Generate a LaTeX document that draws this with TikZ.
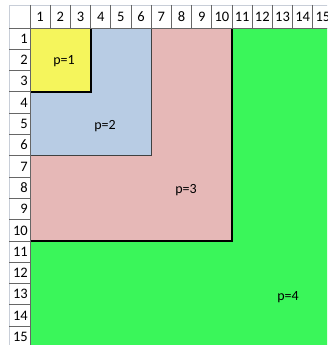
\documentclass[tikz,border=0pt]{standalone}
\usepackage{fontspec}
\setmainfont{Carlito}
\usepackage{xcolor}
\definecolor{cellyellow}{RGB}{245,245,92}
\definecolor{cellblue}{RGB}{184,204,228}
\definecolor{cellpink}{RGB}{230,184,183}
\definecolor{cellgreen}{RGB}{58,246,90}
\definecolor{hdrline}{RGB}{200,206,216}
\newcommand{\cw}{20.2}
\newcommand{\rh}{21.3}
\tikzset{
  hdrnum/.style={font=\fontsize{14.5}{14.5}\selectfont, inner sep=0pt},
  plabel/.style={font=\fontsize{14}{14}\selectfont, inner sep=0pt},
  sep/.style={black!60, line width=0.9pt}
}

\begin{document}
\begin{tikzpicture}[x=1pt, y=-1pt]
  \useasboundingbox (0,0) rectangle (327,345);
  \clip (0,0) rectangle (327,345);
  \fill[white] (0,0) rectangle (327,345);
  % the four blocks, largest first
  \fill[cellgreen] (30,28) rectangle (335,350);
  \fill[cellpink] (30,28) rectangle ({30+10*\cw},{28+10*\rh});
  \draw[line width=2pt] ({30+10*\cw},28) -- ({30+10*\cw},{28+10*\rh}) -- (30,{28+10*\rh});
  \fill[cellblue] (30,28) rectangle ({30+6*\cw},{28+6*\rh});
  \draw[line width=1.3pt, black!75] ({30+6*\cw},28) -- ({30+6*\cw},{28+6*\rh}) -- (30,{28+6*\rh});
  \fill[cellyellow] (30,28) rectangle ({30+3*\cw},{28+3*\rh});
  \draw[line width=2pt] ({30+3*\cw},28) -- ({30+3*\cw},{28+3*\rh}) -- (30,{28+3*\rh});
  % headers
  \draw[hdrline] (9,350) -- (9,5) -- (335,5);
  \foreach \i in {1,...,15} {
    \node[hdrnum] (col\i) at ({30+(\i-0.5)*\cw},16.5) {\i};
    \draw[sep] ({30+\i*\cw},5) -- ({30+\i*\cw},28);
    \node[hdrnum, anchor=east] (row\i) at (28,{28+(\i-0.5)*\rh}) {\i};
    \draw[sep] (9,{28+\i*\rh}) -- (30,{28+\i*\rh});
  }
  \draw[sep] (9,28) -- (335,28);
  \draw[sep] (30,5) -- (30,350);
  % labels
  \node[plabel] (p1) at (64,61) {p=1};
  \node[plabel] (p2) at (105,126) {p=2};
  \node[plabel] (p3) at (186,190) {p=3};
  \node[plabel] (p4) at (288,297) {p=4};
\end{tikzpicture}
\end{document}
